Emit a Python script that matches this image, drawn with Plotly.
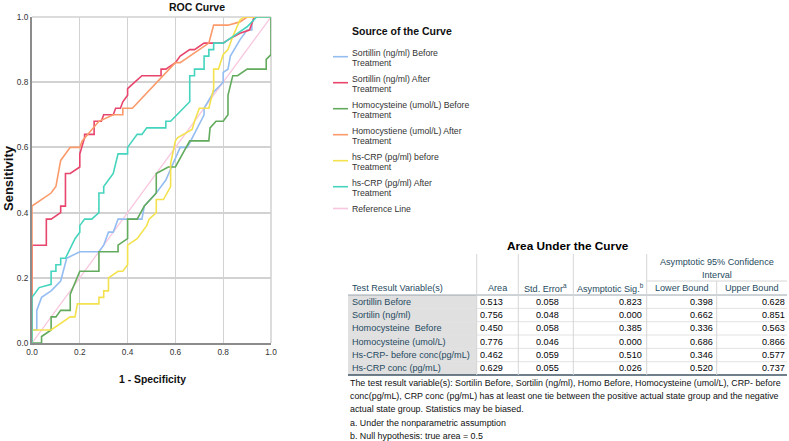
import plotly.graph_objects as go

# ---------------- data ----------------
series_names = [
    "Sortillin (ng/ml) Before Treatment",
    "Sortillin (ng/ml) After Treatment",
    "Homocysteine (umol/L) Before Treatment",
    "Homocystiene (umol/L) After Treatment",
    "hs-CRP (pg/ml) before Treatment",
    "hs-CRP (pg/ml) After Treatment",
]
series_colors = ["#94bdf2", "#e8456c", "#62aa5c", "#fb9a6a", "#f3e24e", "#45d4bd"]
ref_color = "#f8c6de"

sort_before_x = [0, 0, 0.02, 0.02, 0.04, 0.08, 0.12, 0.14, 0.145, 0.20, 0.28, 0.30, 0.32, 0.34, 0.36, 0.46, 0.47, 0.52, 0.56, 0.62, 0.65, 0.72, 0.72, 0.76, 0.80, 0.80, 0.82, 0.83, 0.87, 0.90, 0.92, 0.92, 0.93, 1.0]
sort_before_y = [0, 0.04, 0.04, 0.10, 0.14, 0.16, 0.19, 0.24, 0.26, 0.28, 0.28, 0.30, 0.34, 0.34, 0.38, 0.38, 0.42, 0.46, 0.50, 0.60, 0.60, 0.70, 0.72, 0.77, 0.80, 0.83, 0.84, 0.88, 0.93, 0.96, 0.96, 0.98, 1.0, 1.0]

sort_after_x = [0, 0, 0.06, 0.06, 0.08, 0.12, 0.12, 0.14, 0.14, 0.16, 0.20, 0.20, 0.22, 0.22, 0.26, 0.26, 0.29, 0.30, 0.34, 0.35, 0.37, 0.38, 0.40, 0.40, 0.43, 0.46, 0.54, 0.54, 0.56, 0.60, 0.62, 0.66, 0.68, 0.72, 0.80, 0.82, 0.87, 0.91, 0.92, 0.93, 1.0]
sort_after_y = [0, 0.30, 0.30, 0.38, 0.38, 0.40, 0.42, 0.42, 0.52, 0.52, 0.54, 0.58, 0.63, 0.64, 0.64, 0.68, 0.68, 0.70, 0.70, 0.72, 0.72, 0.74, 0.76, 0.78, 0.80, 0.82, 0.82, 0.84, 0.84, 0.86, 0.88, 0.90, 0.90, 0.92, 0.92, 0.93, 0.95, 0.96, 0.98, 1.0, 1.0]

homo_before_x = [0, 0.04, 0.04, 0.08, 0.08, 0.10, 0.12, 0.16, 0.16, 0.20, 0.28, 0.28, 0.36, 0.36, 0.40, 0.40, 0.44, 0.47, 0.52, 0.52, 0.57, 0.60, 0.66, 0.74, 0.745, 0.77, 0.80, 0.82, 0.82, 0.84, 0.86, 0.90, 0.98, 0.98, 1.0, 1.0]
homo_before_y = [0, 0, 0.02, 0.04, 0.08, 0.08, 0.10, 0.10, 0.15, 0.22, 0.22, 0.28, 0.28, 0.30, 0.32, 0.38, 0.38, 0.42, 0.46, 0.52, 0.54, 0.54, 0.62, 0.62, 0.66, 0.68, 0.68, 0.70, 0.76, 0.82, 0.82, 0.84, 0.84, 0.87, 0.885, 1.0]

homo_after_x = [0, 0, 0.08, 0.10, 0.12, 0.16, 0.20, 0.21, 0.28, 0.34, 0.38, 0.38, 0.42, 0.51, 0.60, 0.62, 0.70, 0.74, 0.76, 0.82, 0.87, 0.90, 1.0]
homo_after_y = [0, 0.42, 0.46, 0.48, 0.56, 0.60, 0.60, 0.62, 0.68, 0.70, 0.70, 0.72, 0.72, 0.79, 0.86, 0.86, 0.90, 0.92, 0.975, 0.975, 0.985, 1.0, 1.0]

crp_before_x = [0, 0, 0.08, 0.16, 0.18, 0.19, 0.28, 0.28, 0.30, 0.30, 0.32, 0.32, 0.36, 0.38, 0.40, 0.40, 0.44, 0.48, 0.49, 0.52, 0.52, 0.55, 0.58, 0.58, 0.60, 0.61, 0.67, 0.68, 0.70, 0.74, 0.76, 0.76, 0.78, 0.80, 0.82, 0.84, 0.87, 0.885, 1.0]
crp_before_y = [0, 0.04, 0.04, 0.08, 0.08, 0.12, 0.12, 0.14, 0.14, 0.16, 0.16, 0.20, 0.22, 0.22, 0.24, 0.30, 0.32, 0.36, 0.38, 0.40, 0.44, 0.44, 0.48, 0.55, 0.62, 0.63, 0.655, 0.68, 0.72, 0.72, 0.78, 0.84, 0.84, 0.885, 0.90, 0.94, 0.99, 1.0, 1.0]

crp_after_x = [0, 0, 0.03, 0.08, 0.08, 0.10, 0.10, 0.12, 0.12, 0.14, 0.18, 0.20, 0.20, 0.22, 0.25, 0.28, 0.28, 0.30, 0.30, 0.32, 0.34, 0.36, 0.40, 0.40, 0.44, 0.46, 0.48, 0.56, 0.56, 0.58, 0.66, 0.66, 0.68, 0.68, 0.72, 0.72, 0.74, 0.74, 0.76, 0.76, 0.80, 0.84, 0.90, 0.94, 1.0]
crp_after_y = [0, 0.14, 0.17, 0.18, 0.22, 0.22, 0.24, 0.24, 0.26, 0.26, 0.32, 0.34, 0.36, 0.38, 0.38, 0.40, 0.46, 0.46, 0.48, 0.50, 0.52, 0.58, 0.58, 0.60, 0.64, 0.64, 0.66, 0.66, 0.68, 0.68, 0.74, 0.82, 0.82, 0.84, 0.84, 0.88, 0.88, 0.90, 0.90, 0.92, 0.92, 0.94, 0.97, 1.0, 1.0]

ref_x = [0, 1]
ref_y = [0, 1]

axis_ticks = [0.0, 0.2, 0.4, 0.6, 0.8, 1.0]
axis_ticklabels = ["0.0", "0.2", "0.4", "0.6", "0.8", "1.0"]

legend_lines = [
    ["Sortillin (ng/ml) Before", "Treatment"],
    ["Sortillin (ng/ml) After", "Treatment"],
    ["Homocysteine (umol/L) Before", "Treatment"],
    ["Homocystiene (umol/L) After", "Treatment"],
    ["hs-CRP (pg/ml) before", "Treatment"],
    ["hs-CRP (pg/ml) After", "Treatment"],
]

table_rows = ["Sortillin Before", "Sortilin (ng/ml)", "Homocysteine\u00a0 Before",
              "Homocysteine (umol/L)", "Hs-CRP- before conc(pg/mL)", "Hs-CRP conc (pg/mL)"]
auc_area = [0.513, 0.756, 0.450, 0.776, 0.462, 0.629]
auc_std_err = [0.058, 0.048, 0.058, 0.046, 0.059, 0.055]
auc_sig = [0.823, 0.000, 0.385, 0.000, 0.510, 0.026]
auc_lower = [0.398, 0.662, 0.336, 0.686, 0.346, 0.520]
auc_upper = [0.628, 0.851, 0.563, 0.866, 0.577, 0.737]
table_headers = ["Test Result Variable(s)", "Area", "Std. Error<sup>a</sup>",
                 "Asymptotic Sig.<sup>b</sup>", "Lower Bound", "Upper Bound"]
footnotes = [
    "The test result variable(s): Sortilin Before, Sortilin (ng/ml), Homo Before, Homocysteine (umol/L), CRP- before",
    "conc(pg/mL), CRP conc (pg/mL) has at least one tie between the positive actual state group and the negative",
    "actual state group. Statistics may be biased.",
    "a. Under the nonparametric assumption",
    "b. Null hypothesis: true area = 0.5",
]

# ---------------- layout helpers ----------------
W, H = 789, 441
L, T = 32, 17
PW, PH = 239, 326
R = W - L - PW
B = H - T - PH


def px(x):  # screen x -> paper
    return (x - L) / PW


def py(y):  # screen y -> paper
    return (T + PH - y) / PH


REG = "Liberation Sans, Arial, sans-serif"

fig = go.Figure()

fig.add_trace(go.Scatter(x=ref_x, y=ref_y, mode="lines",
                         line=dict(color=ref_color, width=1.3),
                         showlegend=False, hoverinfo="skip"))

curves = [
    (sort_before_x, sort_before_y),
    (sort_after_x, sort_after_y),
    (homo_before_x, homo_before_y),
    (homo_after_x, homo_after_y),
    (crp_before_x, crp_before_y),
    (crp_after_x, crp_after_y),
]
for (cx, cy), name, col in zip(curves, series_names, series_colors):
    fig.add_trace(go.Scatter(x=cx, y=cy, mode="lines", name=name,
                             line=dict(color=col, width=1.6),
                             showlegend=False, cliponaxis=False))

annotations = []
shapes = []


def txt(text, x, y, size, color="#111", anchor="left", family=REG, angle=0):
    annotations.append(dict(text=text, x=px(x), y=py(y), xref="paper", yref="paper",
                            showarrow=False, xanchor=anchor, yanchor="middle", textangle=angle,
                            font=dict(family=family, size=size, color=color)))


def hline(x0, x1, y, color, width=1):
    shapes.append(dict(type="line", xref="paper", yref="paper", x0=px(x0), x1=px(x1),
                       y0=py(y), y1=py(y), line=dict(color=color, width=width)))


def vline(x, y0, y1, color, width=1):
    shapes.append(dict(type="line", xref="paper", yref="paper", x0=px(x), x1=px(x),
                       y0=py(y0), y1=py(y1), line=dict(color=color, width=width)))


# Titles
txt("<b>ROC Curve</b>", 197, 7, 10.5, anchor="center")
txt("<b>1 - Specificity</b>", 152, 379, 10.4, anchor="center")
txt("<b>Sensitivity</b>", 8, 178, 13, anchor="center", angle=-90)

# plot border top/right (light)
shapes.append(dict(type="line", xref="paper", yref="paper", x0=0, x1=1, y0=1, y1=1,
                   line=dict(color="#d0d0d0", width=1.5), layer="below"))
shapes.append(dict(type="line", xref="paper", yref="paper", x0=1, x1=1, y0=0, y1=1,
                   line=dict(color="#d0d0d0", width=1.5), layer="below"))

# Legend
txt("<b>Source of the Curve</b>", 350, 31, 10.5)
leg_y = [56.7 + 26 * i for i in range(6)]
for i, (lines, col) in enumerate(zip(legend_lines, series_colors)):
    yl = leg_y[i]
    hline(333, 348, yl, col, 1.6)
    for j, t in enumerate(lines):
        txt(t, 350, yl - 4 + 10.7 * j, 8.7, color="#333")
hline(333, 348, 208.5, ref_color, 1.6)
txt("Reference Line", 350, 208.7, 8.7, color="#333")

# ---------------- table ----------------
HEAD_COL = "#264a60"
NUM_COL = "#010205"
TF = 9.1
col_edges = [348, 476.7, 518.3, 573.3, 646.7, 716.7, 787]
num_right = [504.5, 561, 643.5, 714.5, 786.5]
row_y = [301.7 + 13.33 * i for i in range(6)]
row_top = row_y[0] - 6.67
row_bot = row_y[-1] + 6.67

txt("<b>Area Under the Curve</b>", 568, 246, 11.8, color="#000", anchor="center")

# gray label column
shapes.append(dict(type="rect", xref="paper", yref="paper", x0=px(col_edges[0]), x1=px(col_edges[1]),
                   y0=py(row_top), y1=py(row_bot), fillcolor="#e0e0e0", line=dict(width=0), layer="below"))
for i in range(1, 6):
    hline(col_edges[0], col_edges[-1], row_top + 13.33 * i, "#e2e2e2")
hline(col_edges[0], col_edges[-1], row_top, "#9aa6ae")
hline(col_edges[0], col_edges[-1], row_bot, "#3f5566", 1.3)
for k in range(1, 5):
    vline(col_edges[k], 254, row_bot, "#d6d6d6")
vline(col_edges[5], 281, row_bot, "#d6d6d6")
hline(col_edges[4], col_edges[6], 281, "#d6d6d6")

txt("Asymptotic 95% Confidence", 716.8, 261.5, TF, color=HEAD_COL, anchor="center")
txt("Interval", 716.8, 274.5, TF, color=HEAD_COL, anchor="center")
txt(table_headers[0], 350, 288, TF, color=HEAD_COL)
for k in range(1, 6):
    cx = (col_edges[k] + col_edges[k + 1]) / 2
    txt(table_headers[k], cx, 288, TF, color=HEAD_COL, anchor="center")

cols = [auc_area, auc_std_err, auc_sig, auc_lower, auc_upper]
for i, lab in enumerate(table_rows):
    txt(lab, 350, row_y[i], TF, color=HEAD_COL)
    for k, colv in enumerate(cols):
        txt(f"{colv[i]:.3f}", num_right[k], row_y[i], TF, color=NUM_COL, anchor="right")

for j, t in enumerate(footnotes):
    txt(t, 348, 382.7 + 13.33 * j, 8.9, color="#111")

fig.update_layout(
    width=W, height=H,
    margin=dict(l=L, r=R, t=T, b=B, pad=0, autoexpand=False),
    paper_bgcolor="white", plot_bgcolor="white",
    showlegend=False,
    xaxis=dict(range=[0, 1], tickvals=axis_ticks, ticktext=axis_ticklabels,
               showgrid=True, gridcolor="#d2d2d2", gridwidth=1.2,
               showline=True, linecolor="#8c8c8c", linewidth=2, zeroline=False,
               ticks="", ticklen=0, tickfont=dict(family=REG, size=8.3, color="#333"),
               fixedrange=True),
    yaxis=dict(range=[0, 1], tickvals=axis_ticks, ticktext=axis_ticklabels,
               showgrid=True, gridcolor="#d2d2d2", gridwidth=1.6,
               showline=True, linecolor="#8c8c8c", linewidth=2, zeroline=False,
               ticks="", ticklen=0, tickfont=dict(family=REG, size=8.3, color="#333"),
               fixedrange=True),
    annotations=annotations,
    shapes=shapes,
)

# the page's default 8px body margin would shift the figure; remove it
fig.write_html("out.html", config={"displayModeBar": False},
               post_script="document.body.style.margin='0px';")
